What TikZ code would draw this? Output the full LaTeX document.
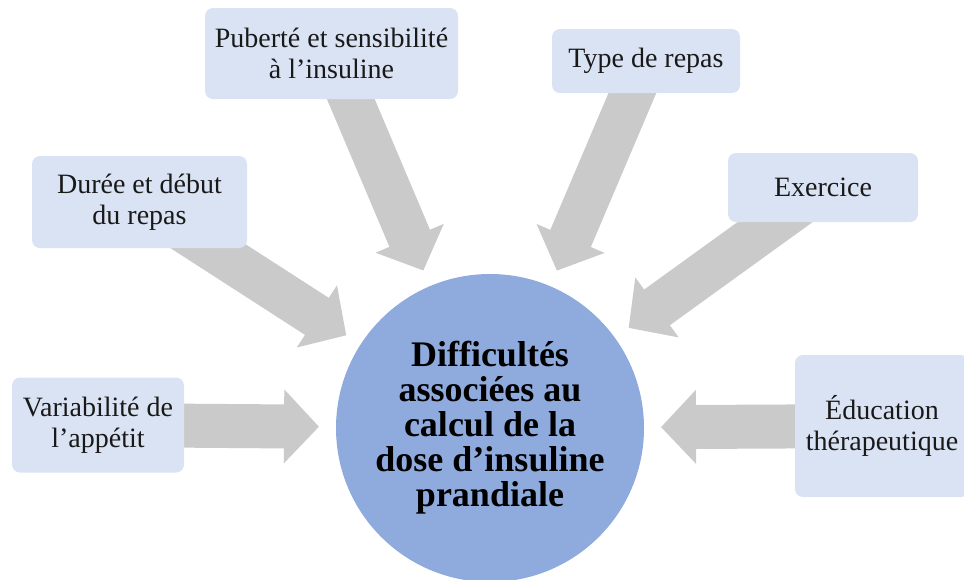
\documentclass[tikz,border=0pt]{standalone}
\usepackage{fontspec}
\setmainfont{Liberation Serif}
\usetikzlibrary{arrows.meta}
\pgfdeclarelayer{background}
\pgfsetlayers{background,main}
\definecolor{boxblue}{HTML}{DAE3F3}
\definecolor{discblue}{HTML}{8FAADC}
\definecolor{arrowgray}{HTML}{CACACA}
\tikzset{
  facteur/.style={
    fill=boxblue,
    rounded corners=8pt,
    align=center,
    inner sep=0pt,
    text=black!90,
    font=\fontsize{28}{31}\selectfont
  },
  disque/.style={
    circle,
    fill=discblue,
    minimum size=308pt,
    inner sep=0pt,
    outer sep=17pt,
    align=center,
    font=\fontsize{36}{35}\selectfont\bfseries
  },
  fleche/.style={
    arrowgray,
    line width=44pt,
    -{Triangle[length=35pt,width=72pt]}
  }
}

\begin{document}
\begin{tikzpicture}[x=1pt,y=-1pt]
    \clip (0,0) rectangle (964,579);

    % disque central
    \node[disque] (cible) at (490,428)
        {Difficultés\\associées au\\calcul de la\\dose d’insuline\\prandiale};

    % facteurs
    \node[facteur,minimum width=253pt,minimum height=91pt] (puberte) at (331.5,53.5)
        {Puberté et sensibilité\\à l’insuline};
    \node[facteur,minimum width=188pt,minimum height=64pt] (type) at (646,61)
        {Type de repas};
    \node[facteur,minimum width=215pt,minimum height=92pt] (duree) at (139.5,202)
        {Durée et début\\du repas};
    \node[facteur,minimum width=190pt,minimum height=69pt] (exercice) at (823,187.5)
        {Exercice};
    \node[facteur,minimum width=172pt,minimum height=95pt] (appetit) at (98,425)
        {Variabilité de\\l’appétit};
    \node[facteur,minimum width=174pt,minimum height=142pt] (education) at (882,426)
        {Éducation\\thérapeutique};

    % flèches
    \begin{pgfonlayer}{background}
        \draw[fleche] (puberte.center) -- (cible);
        \draw[fleche] (type.center) -- (cible);
        \draw[fleche] (duree.center) -- (cible);
        \draw[fleche] (exercice.center) -- (cible);
        \draw[fleche] (appetit.center) -- (cible);
        \draw[fleche] (education.center) -- (cible);
    \end{pgfonlayer}
\end{tikzpicture}
\end{document}
